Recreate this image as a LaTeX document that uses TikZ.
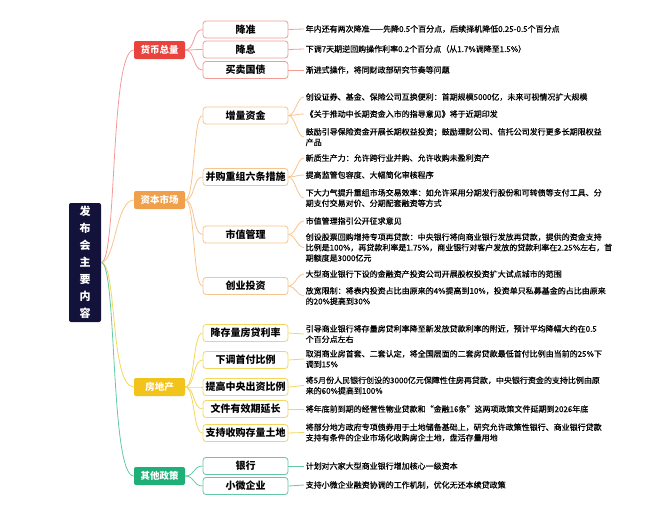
\documentclass[tikz,border=0pt]{standalone}
\usepackage{fontspec}
\setmainfont{Noto Sans CJK SC}
\newfontfamily\leaffont[FakeBold=0.7]{Noto Sans CJK SC}
\definecolor{rootc}{HTML}{12123A}
\definecolor{redc}{HTML}{E8433D}
\definecolor{redl}{HTML}{F29B97}
\definecolor{orangec}{HTML}{F0A04A}
\definecolor{orangel}{HTML}{F7C48E}
\definecolor{yellowc}{HTML}{F2C31B}
\definecolor{yellowl}{HTML}{F4D65E}
\definecolor{greenc}{HTML}{1FB07A}
\definecolor{greenl}{HTML}{63C9A3}
\begin{document}
\begin{tikzpicture}[x=1pt,y=-1pt,
  rootbox/.style={fill=rootc, rounded corners=2pt, minimum width=32pt, minimum height=119pt, text=white, font=\fontsize{11}{17}\selectfont\bfseries, align=center, inner sep=0pt},
  catbox/.style={fill=#1, rounded corners=2pt, minimum width=51pt, minimum height=18pt, text=white, font=\fontsize{9.5}{11}\selectfont\bfseries, inner sep=0pt},
  subbox/.style={draw=#1, fill=white, rounded corners=3pt, line width=0.8pt, minimum width=85pt, minimum height=17pt, font=\fontsize{10}{12}\selectfont\bfseries, inner sep=0pt},
  leaf/.style={anchor=west, align=left, font=\fontsize{8}{10.5}\leaffont, inner sep=1.5pt, text=black},
  link/.style={draw=#1, line width=0.8pt}]
\useasboundingbox (0,0) rectangle (667,525);

% root
\node[rootbox] (root) at (85,262.5) {发\\布\\会\\主\\要\\内\\容};

% categories
\node[catbox=redc] (c1) at (159.5,50) {货币总量};
\node[catbox=orangec] (c2) at (159.5,200) {资本市场};
\node[catbox=yellowc] (c3) at (159.5,387) {房地产};
\node[catbox=greenc] (c4) at (159.5,476) {其他政策};

\draw[link=redl] (root.east) .. controls +(16,0) and +(-24,0) .. (c1.west);
\draw[link=orangel] (root.east) .. controls +(14,0) and +(-18,0) .. (c2.west);
\draw[link=yellowl] (root.east) .. controls +(16,0) and +(-24,0) .. (c3.west);
\draw[link=greenl] (root.east) .. controls +(16,0) and +(-24,0) .. (c4.west);

% level 2
\node[subbox=redl] (s11) at (245.5,29.5) {降准};
\node[subbox=redl] (s12) at (245.5,49.5) {降息};
\node[subbox=redl] (s13) at (245.5,70) {买卖国债};
\node[subbox=orangel] (s21) at (245.5,115.5) {增量资金};
\node[subbox=orangel] (s22) at (245.5,177) {并购重组六条措施};
\node[subbox=orangel] (s23) at (245.5,234.5) {市值管理};
\node[subbox=orangel] (s24) at (245.5,286) {创业投资};
\node[subbox=yellowl] (s31) at (245.5,333) {降存量房贷利率};
\node[subbox=yellowl] (s32) at (245.5,360) {下调首付比例};
\node[subbox=yellowl] (s33) at (245.5,387) {提高中央出资比例};
\node[subbox=yellowl] (s34) at (245.5,409) {文件有效期延长};
\node[subbox=yellowl] (s35) at (245.5,433) {支持收购存量土地};
\node[subbox=greenl] (s41) at (245.5,466) {银行};
\node[subbox=greenl] (s42) at (245.5,486) {小微企业};

\foreach \s in {s11,s12,s13} \draw[link=redl] (c1.east) .. controls +(10,0) and +(-10,0) .. (\s.west);
\foreach \s in {s21,s22,s23,s24} \draw[link=orangel] (c2.east) .. controls +(10,0) and +(-10,0) .. (\s.west);
\foreach \s in {s31,s32,s33,s34,s35} \draw[link=yellowl] (c3.east) .. controls +(10,0) and +(-10,0) .. (\s.west);
\foreach \s in {s41,s42} \draw[link=greenl] (c4.east) .. controls +(10,0) and +(-10,0) .. (\s.west);

% leaves
\node[leaf] (l11) at (304,29) {年内还有两次降准——先降0.5个百分点，后续择机降低0.25-0.5个百分点};
\node[leaf] (l12) at (304,49) {下调7天期逆回购操作利率0.2个百分点（从1.7\%调降至1.5\%）};
\node[leaf] (l13) at (304,70) {渐进式操作，将同财政部研究节奏等问题};

\node[leaf] (l211) at (304,97) {创设证券、基金、保险公司互换便利：首期规模5000亿，未来可视情况扩大规模};
\node[leaf] (l212) at (304,114) {《关于推动中长期资金入市的指导意见》将于近期印发};
\node[leaf] (l213) at (304,137) {鼓励引导保险资金开展长期权益投资；鼓励理财公司、信托公司发行更多长期限权益\\产品};

\node[leaf] (l221) at (304,158) {新质生产力：允许跨行业并购、允许收购未盈利资产};
\node[leaf] (l222) at (304,175) {提高监管包容度、大幅简化审核程序};
\node[leaf] (l223) at (304,198) {下大力气提升重组市场交易效率：如允许采用分期发行股份和可转债等支付工具、分\\期支付交易对价、分期配套融资等方式};

\node[leaf] (l231) at (304,221) {市值管理指引公开征求意见};
\node[leaf] (l232) at (304,247.5) {创设股票回购增持专项再贷款：中央银行将向商业银行发放再贷款，提供的资金支持\\比例是100\%，再贷款利率是1.75\%，商业银行对客户发放的贷款利率在2.25\%左右，首\\期额度是3000亿元};

\node[leaf] (l241) at (304,274) {大型商业银行下设的金融资产投资公司开展股权投资扩大试点城市的范围};
\node[leaf] (l242) at (304,296) {放宽限制：将表内投资占比由原来的4\%提高到10\%，投资单只私募基金的占比由原来\\的20\%提高到30\%};

\node[leaf] (l31) at (304,334) {引导商业银行将存量房贷利率降至新发放贷款利率的附近，预计平均降幅大约在0.5\\个百分点左右};
\node[leaf] (l32) at (304,359) {取消商业房首套、二套认定，将全国层面的二套房贷款最低首付比例由当前的25\%下\\调到15\%};
\node[leaf] (l33) at (304,385.5) {将5月份人民银行创设的3000亿元保障性住房再贷款，中央银行资金的支持比例由原\\来的60\%提高到100\%};
\node[leaf] (l34) at (304,409) {将年底前到期的经营性物业贷款和“金融16条”这两项政策文件延期到2026年底};
\node[leaf] (l35) at (304,432.5) {将部分地方政府专项债券用于土地储备基础上，研究允许政策性银行、商业银行贷款\\支持有条件的企业市场化收购房企土地，盘活存量用地};

\node[leaf] (l41) at (304,466) {计划对六家大型商业银行增加核心一级资本};
\node[leaf] (l42) at (304,485) {支持小微企业融资协调的工作机制，优化无还本续贷政策};

% leaf links
\draw[link=redl] (s11.east) -- (l11.west);
\draw[link=redl] (s12.east) -- (l12.west);
\draw[link=redl] (s13.east) -- (l13.west);
\foreach \l in {l211,l212,l213} \draw[link=orangel] (s21.east) .. controls +(7,0) and +(-7,0) .. (\l.west);
\foreach \l in {l221,l222,l223} \draw[link=orangel] (s22.east) .. controls +(7,0) and +(-7,0) .. (\l.west);
\foreach \l in {l231,l232} \draw[link=orangel] (s23.east) .. controls +(7,0) and +(-7,0) .. (\l.west);
\foreach \l in {l241,l242} \draw[link=orangel] (s24.east) .. controls +(7,0) and +(-7,0) .. (\l.west);
\draw[link=yellowl] (s31.east) .. controls +(7,0) and +(-7,0) .. (l31.west);
\draw[link=yellowl] (s32.east) .. controls +(7,0) and +(-7,0) .. (l32.west);
\draw[link=yellowl] (s33.east) .. controls +(7,0) and +(-7,0) .. (l33.west);
\draw[link=yellowl] (s34.east) -- (l34.west);
\draw[link=yellowl] (s35.east) .. controls +(7,0) and +(-7,0) .. (l35.west);
\draw[link=greenl] (s41.east) -- (l41.west);
\draw[link=greenl] (s42.east) -- (l42.west);
\end{tikzpicture}
\end{document}
